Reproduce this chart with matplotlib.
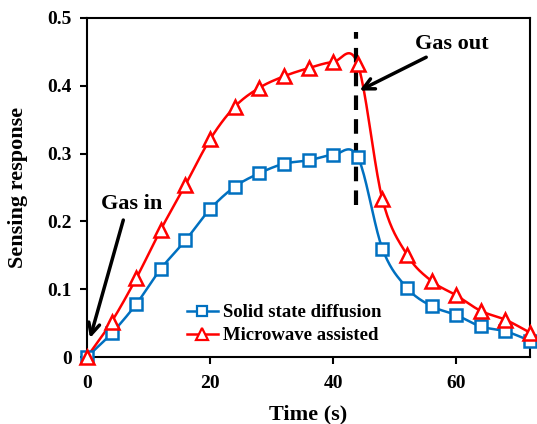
import numpy as np
import matplotlib
matplotlib.use("Agg")
import matplotlib.pyplot as plt

plt.rcParams['font.family'] = ['Liberation Serif', 'DejaVu Serif']
plt.rcParams['font.weight'] = 'bold'

# data
time_s = [0, 4, 8, 12, 16, 20, 24, 28, 32, 36, 40, 44, 48, 52, 56, 60, 64, 68, 72]
solid_state = [0.0, 0.035, 0.078, 0.13, 0.172, 0.218, 0.251, 0.271, 0.285, 0.29, 0.298, 0.295,
               0.16, 0.102, 0.075, 0.062, 0.045, 0.038, 0.024]
microwave = [0.0, 0.052, 0.116, 0.188, 0.254, 0.321, 0.369, 0.397, 0.414, 0.426, 0.435, 0.432,
             0.233, 0.151, 0.112, 0.091, 0.068, 0.055, 0.036]
x_ticks = [0, 20, 40, 60]
y_ticks = [0, 0.1, 0.2, 0.3, 0.4, 0.5]


def smooth(x, y, n=20):
    # Catmull-Rom style smoothing like Excel's smoothed line
    x = np.asarray(x, float)
    y = np.asarray(y, float)
    px = np.concatenate([[2 * x[0] - x[1]], x, [2 * x[-1] - x[-2]]])
    py = np.concatenate([[2 * y[0] - y[1]], y, [2 * y[-1] - y[-2]]])
    t = np.linspace(0, 1, n, endpoint=False)
    xs, ys = [], []
    for i in range(1, len(px) - 2):
        for arr, out in ((px, xs), (py, ys)):
            p0, p1, p2, p3 = arr[i - 1], arr[i], arr[i + 1], arr[i + 2]
            out.extend(0.5 * (2 * p1 + (-p0 + p2) * t + (2 * p0 - 5 * p1 + 4 * p2 - p3) * t ** 2
                              + (-p0 + 3 * p1 - 3 * p2 + p3) * t ** 3))
    xs.append(x[-1])
    ys.append(y[-1])
    return xs, ys


blue = '#0070C0'
red = '#FF0000'

fig = plt.figure(figsize=(5.37, 4.24), dpi=100)
ax = fig.add_axes([87 / 537, 1 - 357 / 424, 443 / 537, 339 / 424])

sx, sy = smooth(time_s, solid_state)
ax.plot(sx, sy, color=blue, lw=1.8, clip_on=False)
ax.plot(time_s, solid_state, ls='none', marker='s', ms=8.5, mfc='white', mec=blue, mew=1.8,
        clip_on=False, zorder=3)
mx, my = smooth(time_s, microwave)
ax.plot(mx, my, color=red, lw=1.8, clip_on=False)
ax.plot(time_s, microwave, ls='none', marker='^', ms=10, mfc='white', mec=red, mew=1.8,
        clip_on=False, zorder=3)

# legend proxies
ax.plot([], [], color=blue, lw=1.8, marker='s', ms=7, mfc='white', mec=blue, mew=1.6,
        label='Solid state diffusion')
ax.plot([], [], color=red, lw=1.8, marker='^', ms=8, mfc='white', mec=red, mew=1.6,
        label='Microwave assisted')
ax.legend(loc='lower left', bbox_to_anchor=(0.187, -0.012), frameon=False,
          prop={'weight': 'bold', 'size': 13.5}, handlelength=1.65, handletextpad=0.3,
          labelspacing=0.3)

ax.plot([43.8, 43.8], [0.224, 0.48], color='black', lw=3, ls=(0, (3.5, 2.2)))

ax.annotate('Gas out', xy=(44.3, 0.393), xytext=(53.3, 0.461), fontsize=16, fontweight='bold',
            va='center', ha='left',
            arrowprops=dict(arrowstyle='->', color='black', lw=2.5, mutation_scale=20,
                            shrinkA=0, shrinkB=0))
ax.annotate('', xy=(0.5, 0.028), xytext=(5.9, 0.202),
            arrowprops=dict(arrowstyle='->', color='black', lw=2.5, mutation_scale=20,
                            shrinkA=0, shrinkB=0))
ax.text(7.3, 0.226, 'Gas in', fontsize=16, fontweight='bold', ha='center', va='center')

ax.set_xlim(0, 72)
ax.set_ylim(0, 0.5)
ax.set_xticks(x_ticks)
ax.set_yticks(y_ticks)
ax.set_yticklabels(['0', '0.1', '0.2', '0.3', '0.4', '0.5'])
ax.tick_params(direction='out', length=5, width=1.5, labelsize=14)
ax.tick_params(axis='x', pad=8)
ax.tick_params(axis='y', pad=6)
for lab in ax.get_xticklabels() + ax.get_yticklabels():
    lab.set_fontweight('bold')
for sp in ax.spines.values():
    sp.set_linewidth(1.5)
ax.set_xlabel('Time (s)', fontsize=16, fontweight='bold', labelpad=9)
ax.set_ylabel('Sensing response', fontsize=16, fontweight='bold', labelpad=14)

fig.savefig('out.png', dpi=100)
